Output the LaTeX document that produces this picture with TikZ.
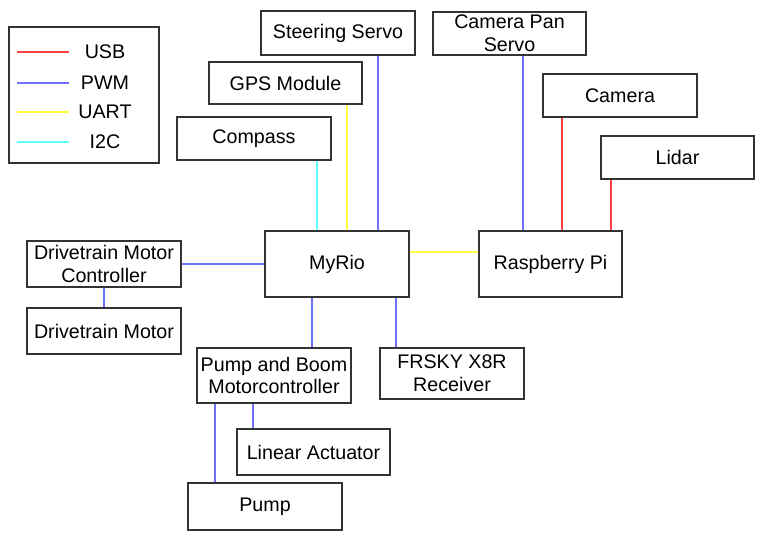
\documentclass[tikz,border=0pt]{standalone}
\usepackage{fontspec}
\setmainfont{Liberation Sans}
\usetikzlibrary{calc}
\definecolor{boxgray}{RGB}{51,51,51}
\definecolor{usbred}{RGB}{255,64,64}
\definecolor{pwmblue}{RGB}{112,112,255}
\definecolor{uartyellow}{RGB}{255,255,64}
\definecolor{i2ccyan}{RGB}{96,255,255}
\tikzset{
  blk/.style={draw=boxgray, line width=1.1pt, fill=white, align=center, inner sep=1pt, font=\fontsize{11.2}{13}\selectfont},
  wide/.style={minimum width=3.07cm},
  narrow/.style={minimum width=2.87cm},
  wire/.style={line width=1pt},
  usb/.style={wire, usbred},
  pwm/.style={wire, pwmblue},
  uart/.style={wire, uartyellow},
  i2c/.style={wire, i2ccyan},
  lgtext/.style={font=\fontsize{11.2}{13}\selectfont, inner sep=0pt}
}
\begin{document}
\begin{tikzpicture}[x=0.02cm,y=-0.02cm]
    \useasboundingbox (0,0) rectangle (759,540);

    % legend
    \node[blk, minimum width=3cm, minimum height=2.72cm] (legend) at (84,95) {};
    \foreach \lbl/\col/\y in {USB/usbred/52, PWM/pwmblue/83, UART/uartyellow/112, I2C/i2ccyan/142} {
      \coordinate (ls\lbl) at (17,\y);
      \coordinate (le\lbl) at (69,\y);
      \draw[wire, color=\col] (ls\lbl) -- (le\lbl);
      \node[lgtext] (lg\lbl) at (105,\y) {\lbl};
    }

    % modules
    \node[blk, wide, minimum height=0.88cm] (steer) at (338,33) {Steering Servo};
    \node[blk, wide, minimum height=0.86cm] (campan) at (509.5,33.5) {Camera Pan\\Servo};
    \node[blk, wide, minimum height=0.84cm] (gps) at (285.5,83) {GPS Module};
    \node[blk, wide, minimum height=0.86cm] (compass) at (254,138.5) {Compass};
    \node[blk, wide, minimum height=0.86cm] (camera) at (620,95.5) {Camera};
    \node[blk, wide, minimum height=0.86cm] (lidar) at (677.5,157.5) {Lidar};
    \node[blk, narrow, minimum height=1.32cm] (myrio) at (337,264) {MyRio};
    \node[blk, narrow, minimum height=1.32cm] (rpi) at (550.5,264) {Raspberry Pi};
    \node[blk, wide, minimum height=0.92cm] (dmc) at (104,264) {Drivetrain Motor\\Controller};
    \node[blk, wide, minimum height=0.92cm] (dm) at (104,331) {Drivetrain Motor};
    \node[blk, wide, minimum height=1.10cm] (pbm) at (274,375.5) {Pump and Boom\\Motorcontroller};
    \node[blk, narrow, minimum height=1.02cm] (frsky) at (452,373.5) {FRSKY X8R\\Receiver};
    \node[blk, wide, minimum height=0.92cm] (linact) at (313.5,452) {Linear Actuator};
    \node[blk, wide, minimum height=0.94cm] (pump) at (265,506.5) {Pump};

    % links into the MyRio
    \draw[i2c] (compass.south -| 317,0) -- (myrio.north -| 317,0);
    \draw[uart] (gps.south -| 347,0) -- (myrio.north -| 347,0);
    \draw[pwm] (steer.south -| 378,0) -- (myrio.north -| 378,0);
    \draw[pwm] (dmc.east) -- (myrio.west);
    \draw[pwm] (dmc.south) -- (dm.north);
    \draw[uart] (myrio.east |- 0,252) -- (rpi.west |- 0,252);
    \draw[pwm] (myrio.south -| 312,0) -- (pbm.north -| 312,0);
    \draw[pwm] (myrio.south -| 396,0) -- (frsky.north -| 396,0);
    \draw[pwm] (pbm.south -| 253,0) -- (linact.north -| 253,0);
    \draw[pwm] (pbm.south -| 215,0) -- (pump.north -| 215,0);

    % links into the Raspberry Pi
    \draw[pwm] (campan.south -| 523,0) -- (rpi.north -| 523,0);
    \draw[usb] (camera.south -| 562,0) -- (rpi.north -| 562,0);
    \draw[usb] (lidar.south -| 611,0) -- (rpi.north -| 611,0);
  \end{tikzpicture}
\end{document}
